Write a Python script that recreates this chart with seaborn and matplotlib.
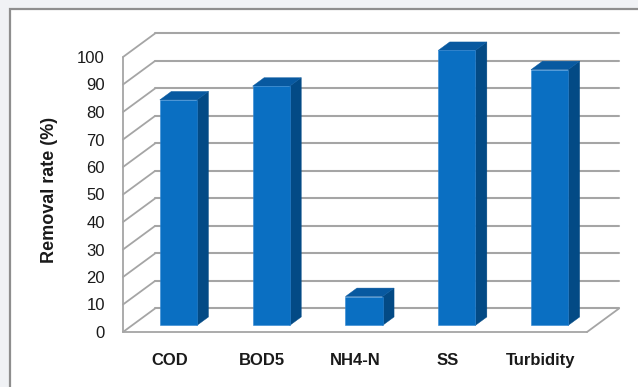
import matplotlib
matplotlib.use("Agg")
import matplotlib.pyplot as plt
from matplotlib.patches import Polygon, Rectangle
from matplotlib.transforms import Affine2D
import pandas as pd
import seaborn as sns

# Removal efficiency of each water-quality parameter
parameters = ["COD", "BOD5", "NH4-N", "SS", "Turbidity"]
removal_rate = [82, 87, 10.5, 100, 93]
y_ticks = [0, 10, 20, 30, 40, 50, 60, 70, 80, 90, 100]

df = pd.DataFrame({"parameter": parameters, "rate": removal_rate})

sns.set_style("white")
plt.rcParams["font.family"] = ["Liberation Sans", "DejaVu Sans"]

FRONT = "#0A6FC2"
SIDE = "#034A85"
TOP = "#0859A0"
GRID = "#A5A5A5"

# pseudo-3D geometry (in data units): depth of the box and of the bars
DX, DY = 0.345, 8.55          # full depth offset of the back wall
BAR_D0, BAR_D1 = 0.28, 0.64   # bar front/back depth as fraction of the box
XL, XR = -0.5, 4.5            # front floor edge
VMAX = 100

fig = plt.figure(figsize=(6.38, 3.87), dpi=100)
fig.patch.set_facecolor("#F0F2F5")
fig.patches.append(Rectangle((10 / 638, -0.1), 1.2, (387 - 9) / 387 + 0.1,
                             transform=fig.transFigure, facecolor="white",
                             edgecolor="#8E8E8E", linewidth=1.6, zorder=-10))

ax = fig.add_axes([123 / 638, 55 / 387, 500 / 638, 302 / 387])
ax.patch.set_alpha(0)

sns.barplot(data=df, x="parameter", y="rate", color=FRONT, width=0.4,
            saturation=1, ax=ax, zorder=5, edgecolor="#2F86D2", linewidth=0.4)

ax.set_xlim(XL, XL + 500 / 92.8)
ax.set_ylim(0, 302 / 2.75)

# left side wall: front edge and receding gridlines
ax.plot([XL, XL], [0, VMAX], color=GRID, lw=1.3, zorder=1, clip_on=False)
for v in y_ticks:
    ax.plot([XL, XL + DX], [v, v + DY], color=GRID, lw=1.3, zorder=1, clip_on=False)
    # back wall gridlines
    ax.plot([XL + DX, XR + DX], [v + DY, v + DY], color=GRID, lw=1.5, zorder=1,
            clip_on=False)
# floor front and right edges
ax.plot([XL, XR], [0, 0], color=GRID, lw=1.3, zorder=1, clip_on=False)
ax.plot([XR, XR + DX], [0, DY], color=GRID, lw=1.3, zorder=1, clip_on=False)

# extrude each bar: shift front face into depth, add side and top faces
ox, oy = BAR_D0 * DX, BAR_D0 * DY
bx, by = (BAR_D1 - BAR_D0) * DX, (BAR_D1 - BAR_D0) * DY
for bar in list(ax.patches):
    x0 = bar.get_x()
    w = bar.get_width()
    h = bar.get_height()
    bar.set_transform(Affine2D().translate(ox, oy) + ax.transData)
    bar.set_clip_on(False)
    x0 += ox
    x1 = x0 + w
    y0 = oy
    y1 = oy + h
    side = Polygon([(x1, y0), (x1 + bx, y0 + by), (x1 + bx, y1 + by), (x1, y1)],
                   closed=True, facecolor=SIDE, edgecolor=SIDE, lw=0.3,
                   zorder=4, clip_on=False)
    top = Polygon([(x0, y1), (x0 + bx, y1 + by), (x1 + bx, y1 + by), (x1, y1)],
                  closed=True, facecolor=TOP, edgecolor=TOP, lw=0.3,
                  zorder=4, clip_on=False)
    ax.add_patch(side)
    ax.add_patch(top)

for s in ax.spines.values():
    s.set_visible(False)

ax.set_yticks(y_ticks)
ax.set_yticklabels([str(t) for t in y_ticks], fontsize=12, color="#1A1A1A")
ax.tick_params(axis="y", length=0, pad=13)
ax.tick_params(axis="x", length=0, pad=15)
for lbl in ax.get_xticklabels():
    lbl.set_fontsize(12)
    lbl.set_fontweight("bold")
    lbl.set_color("#1A1A1A")
ax.set_xlabel("")
ax.set_ylabel("")

fig.text(50 / 638, 1 - 190 / 387, "Removal rate (%)", rotation=90,
         ha="center", va="center", fontsize=13, fontweight="bold", color="#1A1A1A")

fig.savefig("out.png", dpi=100, facecolor=fig.get_facecolor())
